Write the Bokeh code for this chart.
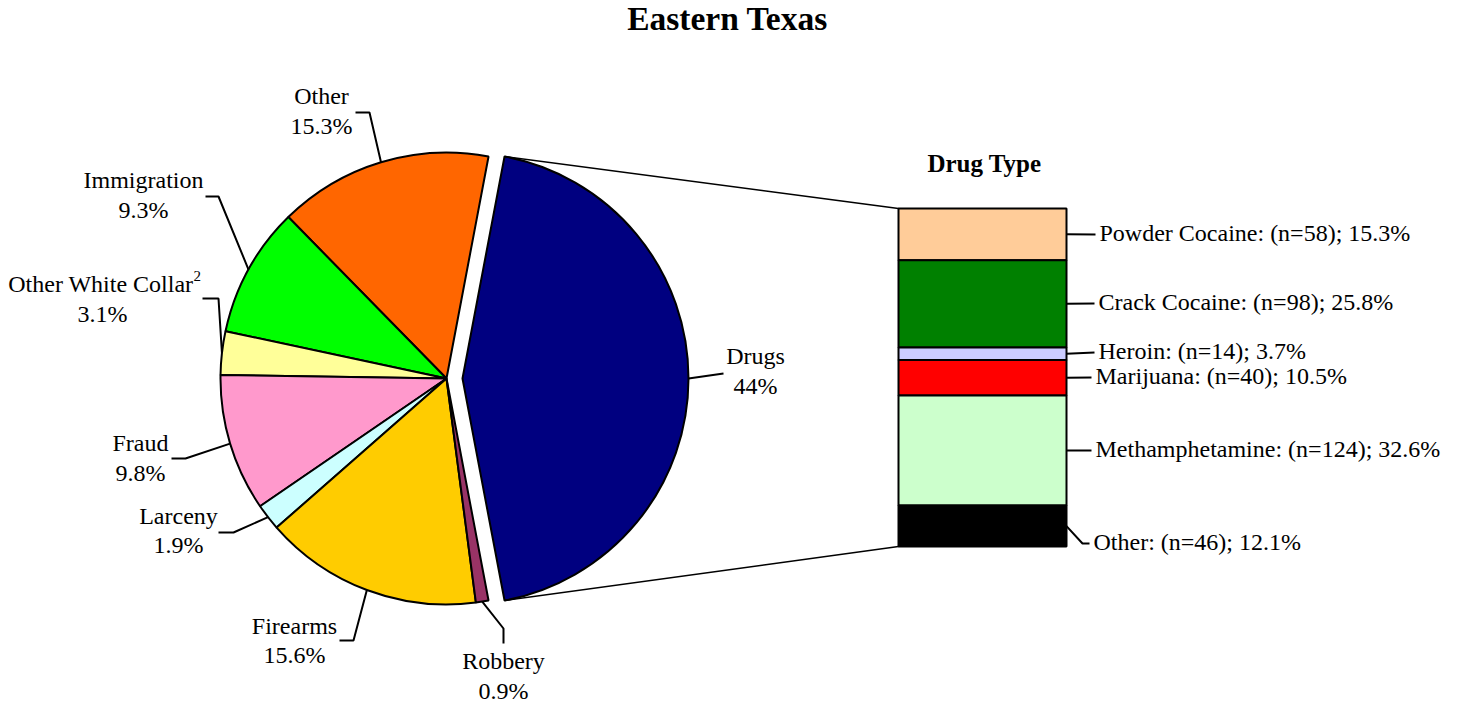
import numpy as np
from bokeh.plotting import figure
from bokeh.models import Range1d, ColumnDataSource
from bokeh.embed import file_html
from bokeh.resources import INLINE
from bokeh.core.properties import value

# ---------------- data ----------------
title_text = "Eastern Texas"
offense_labels = ["Drugs", "Other", "Immigration", "Other White Collar", "Fraud",
                  "Larceny", "Firearms", "Robbery"]
offense_pct = [44.0, 15.3, 9.3, 3.1, 9.8, 1.9, 15.6, 0.9]
offense_pct_text = ["44%", "15.3%", "9.3%", "3.1%", "9.8%", "1.9%", "15.6%", "0.9%"]
offense_colors = ["#000080", "#FF6600", "#00FF00", "#FFFF99", "#FF99CC",
                  "#CCFFFF", "#FFCC00", "#993366"]

drug_title = "Drug Type"
drug_labels = ["Powder Cocaine", "Crack Cocaine", "Heroin", "Marijuana",
               "Methamphetamine", "Other"]
drug_counts = [58, 98, 14, 40, 124, 46]
drug_pct = [15.3, 25.8, 3.7, 10.5, 32.6, 12.1]
drug_colors = ["#FFCC99", "#008000", "#CCCCFF", "#FF0000", "#CCFFCC", "#000000"]

# ---------------- layout (screen pixels) ----------------
W, H = 1459, 704
def sx(x):
    return x
def sy(y):
    return H - y

FONT = value("Liberation Serif")
LBL = "24px"
TXT_DY = -2   # visual correction for "middle" baseline

pie_cx, pie_cy, pie_r, explode = 446, 378, 226, 16
bar_left, bar_right, bar_top, bar_bottom = 898, 1066, 208, 546

# label anchor: (center x, visual center y of the first line), line gap
pie_label_pos = [(755, 357), (321, 97), (143, 181), (102, 285), (140, 444),
                 (178, 517), (294, 627), (503, 662)]
pie_line_gap = [30, 30, 30, 30, 30, 29, 29, 30]
pie_leader_pts = [[(723, 373)],
                  [(369, 112), (355, 112)],
                  [(218, 196), (205, 196)],
                  [(218, 298), (202, 298)],
                  [(185, 458), (171, 458)],
                  [(233, 532), (218, 532)],
                  [(353, 640), (339, 640)],
                  [(503, 628), (503, 643)]]

bar_label_x = [1099, 1098, 1098, 1095, 1095, 1093]
bar_label_y = [234, 303, 352, 377, 450, 543]

# ---------------- figure ----------------
p = figure(width=W, height=H, x_range=Range1d(0, W), y_range=Range1d(0, H),
           output_backend="svg", toolbar_location=None,
           x_axis_location=None, y_axis_location=None, min_border=0,
           background_fill_color="white", border_fill_color="white")
p.grid.visible = False
p.outline_line_color = None

# ---- pie ----
total = float(sum(offense_pct))
ang = [v / total * 2 * np.pi for v in offense_pct]
half = ang[0] / 2
starts, ends, xs_c, mids = [], [], [], []
cur = half
for i, a in enumerate(ang):
    if i == 0:
        s, e = -half, half
        cxx = pie_cx + explode
    else:
        s, e = cur, cur + a
        cur += a
        cxx = pie_cx
    starts.append(s); ends.append(e); xs_c.append(sx(cxx)); mids.append((s + e) / 2)

pie_src = ColumnDataSource(dict(x=xs_c, y=[sy(pie_cy)] * len(ang), start=starts,
                                end=ends, color=offense_colors))
p.wedge(x="x", y="y", radius=pie_r, start_angle="start", end_angle="end",
        fill_color="color", line_color="black", line_width=2, source=pie_src)

# connector lines from Drugs slice to bar
dcx = sx(pie_cx + explode); dcy = sy(pie_cy)
top_pt = (dcx + pie_r * np.cos(half), dcy + pie_r * np.sin(half))
bot_pt = (dcx + pie_r * np.cos(-half), dcy + pie_r * np.sin(-half))
p.multi_line(xs=[[top_pt[0], sx(bar_left)], [bot_pt[0], sx(bar_left)]],
             ys=[[top_pt[1], sy(bar_top)], [bot_pt[1], sy(bar_bottom)]],
             line_color="black", line_width=1.5)

# pie leader lines
lx, ly = [], []
for i, m in enumerate(mids):
    ccx = pie_cx + (explode if i == 0 else 0)
    x0 = sx(ccx) + pie_r * np.cos(m)
    y0 = sy(pie_cy) + pie_r * np.sin(m)
    xs_ = [x0] + [sx(px) for px, py in pie_leader_pts[i]]
    ys_ = [y0] + [sy(py) for px, py in pie_leader_pts[i]]
    lx.append(xs_); ly.append(ys_)
p.multi_line(xs=lx, ys=ly, line_color="black", line_width=2)

# pie labels
for i, lab in enumerate(offense_labels):
    cxl, cy1 = pie_label_pos[i]
    if lab == "Other White Collar":
        p.text(x=[sx(193)], y=[sy(cy1 + TXT_DY)], text=[lab], text_font=FONT,
               text_font_size=LBL, text_align="right", text_baseline="middle",
               text_color="black")
        p.text(x=[sx(193)], y=[sy(cy1 - 8 + TXT_DY)], text=["2"], text_font=FONT,
               text_font_size="15px", text_align="left", text_baseline="middle",
               text_color="black")
    else:
        p.text(x=[sx(cxl)], y=[sy(cy1 + TXT_DY)], text=[lab], text_font=FONT,
               text_font_size=LBL, text_align="center", text_baseline="middle",
               text_color="black")
    p.text(x=[sx(cxl)], y=[sy(cy1 + pie_line_gap[i] + TXT_DY)],
           text=[offense_pct_text[i]], text_font=FONT, text_font_size=LBL,
           text_align="center", text_baseline="middle", text_color="black")

# ---- stacked bar ----
dtot = float(sum(drug_pct))
bh = bar_bottom - bar_top
cum = np.concatenate([[0.0], np.cumsum(drug_pct)]) / dtot
tops = [sy(bar_top + c * bh) for c in cum[:-1]]
bots = [sy(bar_top + c * bh) for c in cum[1:]]
bar_src = ColumnDataSource(dict(left=[sx(bar_left)] * len(drug_pct),
                                right=[sx(bar_right)] * len(drug_pct),
                                top=tops, bottom=bots, color=drug_colors))
p.quad(left="left", right="right", top="top", bottom="bottom", fill_color="color",
       line_color="black", line_width=2, source=bar_src)

# bar leaders and labels
blx, bly = [], []
for i in range(len(drug_pct)):
    mid = (tops[i] + bots[i]) / 2
    ty = sy(bar_label_y[i])
    ex = sx(bar_label_x[i] - 4)
    if abs(ty - mid) > 4:
        xs_ = [sx(bar_right), ex - 7, ex]
        ys_ = [mid, ty, ty]
    else:
        xs_ = [sx(bar_right), ex]
        ys_ = [mid, ty]
    blx.append(xs_); bly.append(ys_)
p.multi_line(xs=blx, ys=bly, line_color="black", line_width=2)

bar_texts = [f"{n}: (n={c}); {v}%" for n, c, v in zip(drug_labels, drug_counts, drug_pct)]
p.text(x=[sx(v) for v in bar_label_x], y=[sy(v + TXT_DY) for v in bar_label_y],
       text=bar_texts, text_font=FONT, text_font_size=LBL, text_align="left",
       text_baseline="middle", text_color="black")

# titles
p.text(x=[sx(727)], y=[sy(20 + TXT_DY)], text=[title_text], text_font=FONT,
       text_font_size="33.5px", text_font_style="bold", text_align="center",
       text_baseline="middle", text_color="black")
p.text(x=[sx(984)], y=[sy(165 + TXT_DY)], text=[drug_title], text_font=FONT,
       text_font_size="25px", text_font_style="bold", text_align="center",
       text_baseline="middle", text_color="black")

open("out.html", "w").write(file_html(p, INLINE))
